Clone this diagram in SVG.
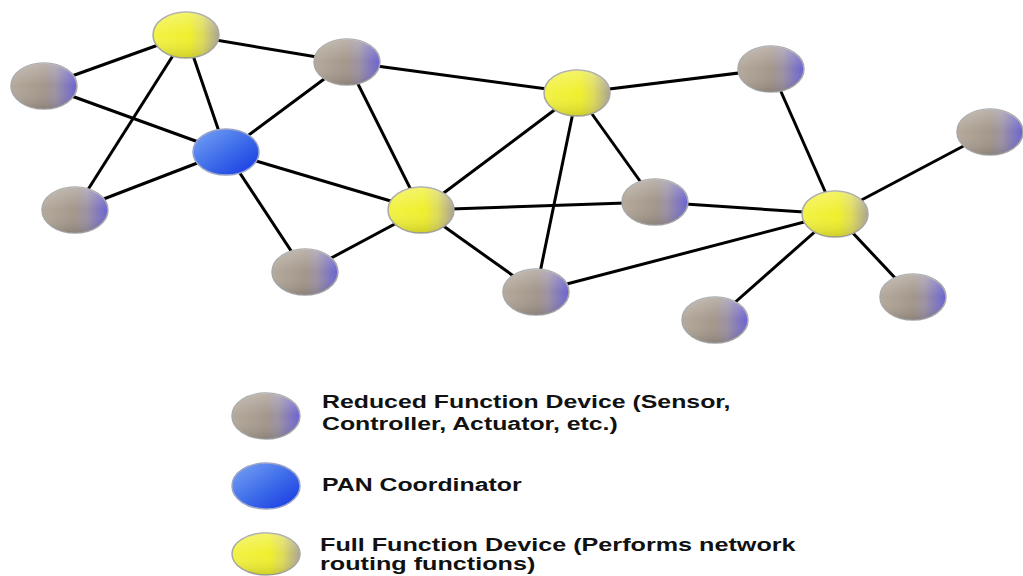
<svg xmlns="http://www.w3.org/2000/svg" width="1023" height="576" viewBox="0 0 1023 576">
  <defs>
    <linearGradient id="gGray" x1="0" y1="0" x2="1" y2="0">
      <stop offset="0" stop-color="#b4a99b"/>
      <stop offset="0.5" stop-color="#a3968a"/>
      <stop offset="0.68" stop-color="#9c92a4"/>
      <stop offset="1" stop-color="#6a62d2"/>
    </linearGradient>
    <linearGradient id="gYellow" x1="0" y1="0" x2="1" y2="0">
      <stop offset="0" stop-color="#f2f246"/>
      <stop offset="0.55" stop-color="#efef2c"/>
      <stop offset="0.75" stop-color="#dedb5a"/>
      <stop offset="1" stop-color="#aaa393"/>
    </linearGradient>
    <linearGradient id="gBlue" x1="0" y1="0" x2="1" y2="1">
      <stop offset="0" stop-color="#7aa4f4"/>
      <stop offset="0.5" stop-color="#3f6eea"/>
      <stop offset="1" stop-color="#1434e2"/>
    </linearGradient>
    <linearGradient id="gShade" x1="0" y1="0" x2="0" y2="1">
      <stop offset="0" stop-color="#ffffff" stop-opacity="0.28"/>
      <stop offset="0.5" stop-color="#ffffff" stop-opacity="0"/>
      <stop offset="1" stop-color="#000000" stop-opacity="0.14"/>
    </linearGradient>
  </defs>
  <style>
    .edge { stroke: #000000; stroke-width: 3; fill: none; }
    .rfd { fill: url(#gGray); stroke: #a8a8a8; stroke-width: 1.5; }
    .ffd { fill: url(#gYellow); stroke: #a8a8a0; stroke-width: 1.5; }
    .pan { fill: url(#gBlue); stroke: #9aa4c8; stroke-width: 1.5; }
    .shade { fill: url(#gShade); stroke: none; }
    .lbl { font-family: "Liberation Sans", Arial, sans-serif; font-weight: bold; font-size: 18px; fill: #111111; }
  </style>
  <rect width="1023" height="576" fill="#ffffff"/>

  <g id="connectors">
    <line class="edge" x1="44" y1="86" x2="186" y2="35"/>
    <line class="edge" x1="44" y1="86" x2="226" y2="152"/>
    <line class="edge" x1="186" y1="35" x2="75" y2="210"/>
    <line class="edge" x1="186" y1="35" x2="226" y2="152"/>
    <line class="edge" x1="186" y1="35" x2="347" y2="62"/>
    <line class="edge" x1="347" y1="62" x2="226" y2="152"/>
    <line class="edge" x1="347" y1="62" x2="577" y2="93"/>
    <line class="edge" x1="347" y1="62" x2="421" y2="210"/>
    <line class="edge" x1="226" y1="152" x2="75" y2="210"/>
    <line class="edge" x1="226" y1="152" x2="421" y2="210"/>
    <line class="edge" x1="226" y1="152" x2="305" y2="272"/>
    <line class="edge" x1="305" y1="272" x2="421" y2="210"/>
    <line class="edge" x1="421" y1="210" x2="577" y2="93"/>
    <line class="edge" x1="421" y1="210" x2="655" y2="202"/>
    <line class="edge" x1="421" y1="210" x2="536" y2="292"/>
    <line class="edge" x1="577" y1="93" x2="536" y2="292"/>
    <line class="edge" x1="577" y1="93" x2="655" y2="202"/>
    <line class="edge" x1="577" y1="93" x2="771" y2="69"/>
    <line class="edge" x1="771" y1="69" x2="835" y2="214"/>
    <line class="edge" x1="655" y1="202" x2="835" y2="214"/>
    <line class="edge" x1="536" y1="292" x2="835" y2="214"/>
    <line class="edge" x1="835" y1="214" x2="990" y2="132"/>
    <line class="edge" x1="835" y1="214" x2="715" y2="320"/>
    <line class="edge" x1="835" y1="214" x2="913" y2="297"/>
  </g>

  <g id="rfd1"><ellipse class="rfd" cx="44" cy="86" rx="33" ry="23"/><ellipse class="shade" cx="44" cy="86" rx="33" ry="23"/></g>
  <g id="ffd1"><ellipse class="ffd" cx="186" cy="35" rx="33" ry="23"/><ellipse class="shade" cx="186" cy="35" rx="33" ry="23"/></g>
  <g id="rfd2"><ellipse class="rfd" cx="347" cy="62" rx="33" ry="23"/><ellipse class="shade" cx="347" cy="62" rx="33" ry="23"/></g>
  <g id="pan"><ellipse class="pan" cx="226" cy="152" rx="33" ry="23"/></g>
  <g id="rfd3"><ellipse class="rfd" cx="75" cy="210" rx="33" ry="23"/><ellipse class="shade" cx="75" cy="210" rx="33" ry="23"/></g>
  <g id="ffd2"><ellipse class="ffd" cx="421" cy="210" rx="33" ry="23"/><ellipse class="shade" cx="421" cy="210" rx="33" ry="23"/></g>
  <g id="rfd4"><ellipse class="rfd" cx="305" cy="272" rx="33" ry="23"/><ellipse class="shade" cx="305" cy="272" rx="33" ry="23"/></g>
  <g id="ffd3"><ellipse class="ffd" cx="577" cy="93" rx="33" ry="23"/><ellipse class="shade" cx="577" cy="93" rx="33" ry="23"/></g>
  <g id="rfd5"><ellipse class="rfd" cx="771" cy="69" rx="33" ry="23"/><ellipse class="shade" cx="771" cy="69" rx="33" ry="23"/></g>
  <g id="rfd6"><ellipse class="rfd" cx="990" cy="132" rx="33" ry="23"/><ellipse class="shade" cx="990" cy="132" rx="33" ry="23"/></g>
  <g id="rfd7"><ellipse class="rfd" cx="655" cy="202" rx="33" ry="23"/><ellipse class="shade" cx="655" cy="202" rx="33" ry="23"/></g>
  <g id="ffd4"><ellipse class="ffd" cx="835" cy="214" rx="33" ry="23"/><ellipse class="shade" cx="835" cy="214" rx="33" ry="23"/></g>
  <g id="rfd8"><ellipse class="rfd" cx="536" cy="292" rx="33" ry="23"/><ellipse class="shade" cx="536" cy="292" rx="33" ry="23"/></g>
  <g id="rfd9"><ellipse class="rfd" cx="715" cy="320" rx="33" ry="23"/><ellipse class="shade" cx="715" cy="320" rx="33" ry="23"/></g>
  <g id="rfd10"><ellipse class="rfd" cx="913" cy="297" rx="33" ry="23"/><ellipse class="shade" cx="913" cy="297" rx="33" ry="23"/></g>

  <g id="legend-rfd">
    <ellipse class="rfd" cx="266" cy="416" rx="34" ry="23"/>
    <ellipse class="shade" cx="266" cy="416" rx="34" ry="23"/>
    <text class="lbl" transform="matrix(1.38 0 0 1 322 408)">Reduced Function Device (Sensor,</text>
    <text class="lbl" transform="matrix(1.38 0 0 1 322 430)">Controller, Actuator, etc.)</text>
  </g>
  <g id="legend-pan">
    <ellipse class="pan" cx="266" cy="486" rx="34" ry="23"/>
    <text class="lbl" transform="matrix(1.38 0 0 1 322 491)">PAN Coordinator</text>
  </g>
  <g id="legend-ffd">
    <ellipse class="ffd" cx="266" cy="554" rx="34" ry="21"/>
    <ellipse class="shade" cx="266" cy="554" rx="34" ry="21"/>
    <text class="lbl" transform="matrix(1.4 0 0 1 320 551)">Full Function Device (Performs network</text>
    <text class="lbl" transform="matrix(1.4 0 0 1 320 570)">routing functions)</text>
  </g>
</svg>
